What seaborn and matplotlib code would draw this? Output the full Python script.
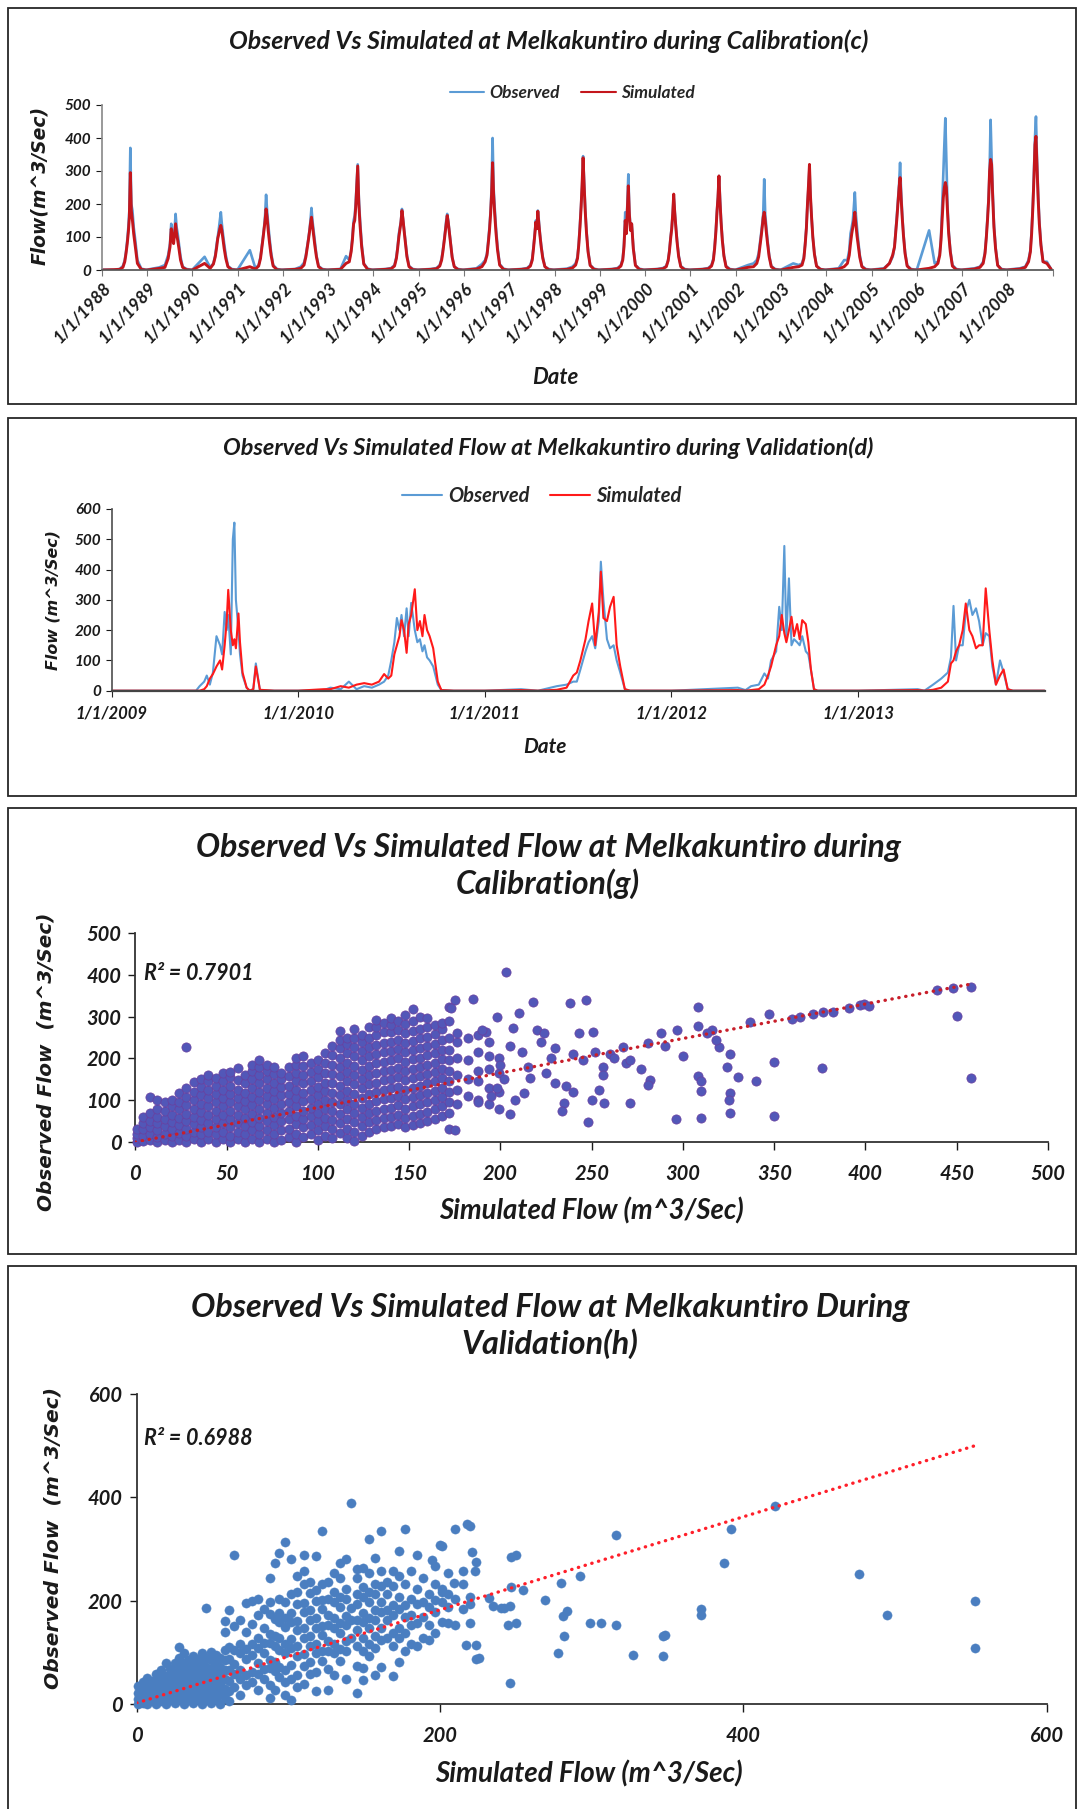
import numpy as np
import pandas as pd
import matplotlib
matplotlib.use("Agg")
import matplotlib.pyplot as plt
import seaborn as sns
from matplotlib.patches import Rectangle
from matplotlib.lines import Line2D
from matplotlib import font_manager as fm

# ---------------- DATA ----------------
# Panel (c): calibration hydrograph, values at these month-day anchors of each year
cal_years = list(range(1988, 2009))
cal_anchor_md = ["01-01", "04-10", "05-25", "06-20", "07-05", "07-15", "07-25", "08-03", "08-11",
                 "08-19", "08-27", "09-05", "09-15", "09-28", "10-15", "11-15", "12-20"]
cal_obs_rows = [
    [1, 1, 3, 12, 30, 55, 90, 130, 180, 370, 200, 180, 130, 90, 30, 4, 1],
    [1, 8, 15, 45, 80, 140, 100, 90, 120, 170, 130, 110, 80, 40, 10, 3, 1],
    [1, 40, 8, 20, 45, 75, 100, 125, 150, 175, 140, 110, 80, 45, 12, 3, 1],
    [1, 60, 5, 15, 40, 70, 100, 130, 165, 228, 180, 140, 100, 55, 15, 3, 1],
    [1, 3, 10, 22, 45, 70, 95, 120, 150, 188, 150, 120, 85, 45, 12, 3, 1],
    [1, 3, 42, 30, 60, 100, 150, 165, 205, 265, 320, 220, 150, 80, 20, 4, 1],
    [1, 3, 6, 15, 40, 70, 110, 130, 150, 185, 155, 125, 90, 45, 12, 3, 1],
    [1, 3, 6, 15, 35, 60, 90, 120, 150, 170, 150, 120, 85, 40, 10, 3, 1],
    [1, 5, 18, 30, 50, 90, 130, 180, 250, 400, 250, 190, 130, 70, 18, 4, 1],
    [1, 3, 6, 15, 35, 70, 110, 150, 130, 180, 150, 110, 75, 40, 10, 3, 1],
    [1, 4, 10, 20, 40, 80, 140, 200, 250, 345, 270, 190, 120, 60, 15, 4, 1],
    [1, 3, 6, 15, 35, 80, 175, 120, 200, 290, 180, 130, 140, 70, 15, 4, 1],
    [1, 3, 6, 12, 30, 60, 100, 130, 170, 225, 180, 135, 90, 45, 12, 3, 1],
    [1, 3, 6, 15, 35, 70, 120, 180, 220, 285, 220, 150, 95, 45, 12, 3, 1],
    [1, 15, 20, 30, 50, 80, 110, 140, 170, 275, 170, 130, 90, 45, 12, 3, 1],
    [1, 20, 15, 20, 40, 80, 130, 200, 250, 310, 220, 160, 100, 50, 12, 3, 1],
    [1, 5, 30, 30, 60, 110, 130, 150, 190, 235, 170, 130, 90, 45, 12, 3, 1],
    [1, 5, 20, 40, 70, 120, 170, 220, 260, 325, 240, 170, 110, 55, 14, 3, 1],
    [1, 120, 20, 25, 50, 100, 200, 300, 380, 460, 340, 200, 120, 60, 15, 3, 1],
    [1, 5, 10, 25, 55, 100, 160, 220, 300, 455, 340, 240, 140, 70, 15, 3, 1],
    [1, 5, 10, 30, 60, 120, 200, 300, 400, 465, 340, 240, 150, 80, 25, 25, 2],
]
cal_sim_rows = [
    [0, 1, 2, 8, 25, 50, 80, 115, 160, 295, 180, 150, 110, 70, 20, 2, 0],
    [0, 5, 8, 35, 70, 125, 95, 80, 110, 140, 110, 90, 65, 30, 8, 1, 0],
    [0, 20, 5, 18, 40, 65, 95, 110, 125, 135, 120, 95, 65, 35, 10, 1, 0],
    [0, 10, 3, 12, 35, 65, 95, 125, 150, 185, 160, 120, 85, 45, 12, 1, 0],
    [0, 2, 5, 15, 40, 65, 90, 115, 140, 160, 135, 105, 75, 40, 10, 1, 0],
    [0, 2, 20, 25, 55, 90, 140, 150, 190, 250, 315, 200, 135, 70, 18, 2, 0],
    [0, 2, 4, 12, 35, 65, 100, 125, 145, 180, 155, 120, 85, 40, 10, 1, 0],
    [0, 2, 4, 12, 30, 55, 85, 115, 140, 165, 145, 115, 80, 38, 10, 1, 0],
    [0, 3, 10, 25, 45, 80, 120, 170, 230, 325, 230, 170, 115, 60, 15, 2, 0],
    [0, 2, 4, 12, 30, 65, 105, 145, 125, 178, 140, 105, 70, 35, 10, 1, 0],
    [0, 2, 6, 15, 35, 75, 130, 190, 260, 340, 260, 180, 115, 55, 14, 2, 0],
    [0, 2, 4, 12, 30, 70, 150, 110, 180, 255, 170, 120, 140, 65, 14, 2, 0],
    [0, 2, 4, 10, 28, 55, 95, 125, 170, 230, 175, 130, 85, 40, 10, 1, 0],
    [0, 2, 4, 12, 30, 65, 115, 175, 220, 285, 210, 145, 90, 42, 10, 1, 0],
    [0, 8, 10, 20, 40, 70, 100, 130, 160, 175, 150, 115, 80, 40, 10, 1, 0],
    [0, 8, 10, 15, 35, 75, 125, 200, 255, 320, 225, 160, 100, 48, 12, 2, 0],
    [0, 3, 10, 20, 45, 80, 110, 130, 150, 175, 140, 105, 75, 38, 10, 1, 0],
    [0, 3, 20, 45, 70, 115, 160, 210, 250, 280, 220, 160, 105, 50, 12, 1, 0],
    [0, 5, 10, 20, 45, 90, 160, 220, 250, 265, 250, 180, 110, 55, 12, 1, 0],
    [0, 3, 8, 20, 50, 95, 150, 210, 300, 335, 320, 220, 130, 65, 14, 1, 0],
    [0, 3, 8, 25, 55, 110, 190, 280, 380, 405, 320, 220, 140, 75, 25, 20, 2],
]

# Panel (d): validation hydrograph
val_dates = [
    "2009-01-01", "2009-06-15", "2009-06-22", "2009-07-01", "2009-07-06", "2009-07-12", "2009-07-18", "2009-07-25",
    "2009-08-01", "2009-08-05", "2009-08-10", "2009-08-14", "2009-08-17", "2009-08-22", "2009-08-26", "2009-08-29",
    "2009-09-01", "2009-09-06", "2009-09-09", "2009-09-14", "2009-09-22", "2009-09-28", "2009-10-05", "2009-10-10",
    "2009-10-18", "2009-11-15",
    "2010-01-01", "2010-02-20", "2010-03-05", "2010-03-25", "2010-04-10", "2010-04-25", "2010-05-10", "2010-05-25",
    "2010-06-08", "2010-06-18", "2010-06-26", "2010-07-02", "2010-07-08", "2010-07-13", "2010-07-18", "2010-07-22",
    "2010-07-27", "2010-08-01", "2010-08-05", "2010-08-10", "2010-08-17", "2010-08-22", "2010-08-27", "2010-09-01",
    "2010-09-05", "2010-09-10", "2010-09-15", "2010-09-22", "2010-10-01", "2010-10-08", "2010-11-01",
    "2011-01-01", "2011-03-13", "2011-04-15", "2011-05-22", "2011-06-10", "2011-06-23", "2011-06-30", "2011-07-07",
    "2011-07-17", "2011-07-23", "2011-07-30", "2011-08-05", "2011-08-12", "2011-08-16", "2011-08-21", "2011-08-28",
    "2011-09-03", "2011-09-10", "2011-09-16", "2011-09-23", "2011-10-02", "2011-10-12",
    "2012-01-01", "2012-05-10", "2012-05-25", "2012-06-05", "2012-06-20", "2012-07-01", "2012-07-08", "2012-07-14",
    "2012-07-24", "2012-07-30", "2012-08-04", "2012-08-09", "2012-08-13", "2012-08-18", "2012-08-23", "2012-08-28",
    "2012-09-03", "2012-09-08", "2012-09-13", "2012-09-20", "2012-09-25", "2012-09-30", "2012-10-06", "2012-10-13",
    "2013-01-01", "2013-04-27", "2013-05-10", "2013-05-27", "2013-06-12", "2013-06-25", "2013-07-01", "2013-07-06",
    "2013-07-11", "2013-07-17", "2013-07-24", "2013-07-30", "2013-08-06", "2013-08-12", "2013-08-19", "2013-08-25",
    "2013-09-01", "2013-09-07", "2013-09-14", "2013-09-20", "2013-09-27", "2013-10-05", "2013-10-12", "2013-10-20",
    "2013-10-30", "2013-12-31",
]
val_obs = [
    0, 0, 15, 30, 50, 20, 60, 180, 150, 120, 260, 200, 250, 120, 500, 555, 300, 200, 120, 50, 10, 0, 5, 90, 2, 0,
    0, 2, 10, 5, 30, 5, 15, 10, 20, 30, 50, 100, 160, 240, 200, 250, 180, 272, 180, 290, 200, 160, 170, 130, 150,
    110, 100, 80, 20, 2, 0,
    0, 5, 0, 15, 20, 30, 30, 70, 130, 160, 180, 140, 230, 426, 300, 170, 140, 150, 100, 60, 5, 0,
    0, 10, 2, 15, 20, 57, 40, 100, 130, 277, 200, 478, 170, 371, 150, 170, 160, 150, 180, 130, 120, 70, 5, 0,
    0, 5, 0, 20, 40, 60, 110, 280, 100, 150, 150, 260, 300, 250, 272, 230, 150, 190, 180, 80, 20, 100, 60, 5, 0, 0,
]
val_sim = [
    0, 0, 0, 5, 15, 40, 55, 80, 100, 70, 150, 230, 333, 200, 150, 170, 140, 255, 160, 60, 10, 0, 5, 80, 3, 0,
    0, 5, 5, 15, 10, 20, 25, 20, 30, 55, 40, 50, 120, 150, 180, 233, 200, 125, 220, 250, 335, 200, 230, 180, 250,
    200, 180, 140, 30, 2, 0,
    0, 2, 0, 3, 10, 50, 60, 100, 170, 230, 288, 150, 260, 393, 240, 230, 277, 310, 150, 80, 5, 0,
    0, 2, 0, 2, 5, 20, 50, 80, 150, 180, 250, 190, 160, 200, 244, 180, 220, 170, 233, 220, 160, 70, 5, 0,
    0, 2, 0, 3, 10, 30, 90, 100, 130, 150, 200, 288, 200, 180, 140, 150, 150, 338, 200, 100, 20, 50, 70, 5, 0, 0,
]

# Panel (g): calibration scatter, observed values read per simulated-flow column
cal_sim_cols = [1, 4, 8, 12, 16, 20, 24, 28, 32, 36, 40, 44, 48, 52, 56, 60, 64, 68, 72, 76, 80, 84, 88, 92, 96,
                100, 104, 108, 112, 116, 120, 124, 128, 132, 136, 140, 144, 148, 152, 156, 160, 164, 168, 172,
                176, 182, 188, 194, 199]
cal_obs_cols = [
    [0, 10, 20, 30], [2, 15, 30, 45, 60], [5, 20, 35, 50, 70, 108], [0, 12, 28, 45, 60, 80, 100],
    [5, 20, 38, 55, 75, 95], [0, 15, 30, 48, 65, 85, 100], [5, 22, 40, 58, 78, 95, 118],
    [0, 15, 32, 50, 68, 88, 108, 128, 228], [8, 25, 42, 60, 80, 100, 120, 144],
    [0, 18, 35, 52, 72, 92, 112, 132, 150], [8, 25, 45, 65, 85, 105, 125, 145, 160],
    [0, 18, 36, 55, 75, 95, 115, 135, 152], [6, 25, 45, 65, 85, 105, 125, 145, 165],
    [0, 15, 35, 55, 75, 95, 115, 135, 155, 168], [8, 25, 45, 65, 85, 105, 125, 148, 176],
    [0, 18, 38, 58, 78, 98, 118, 140, 160], [6, 28, 48, 68, 88, 108, 128, 150, 170, 185],
    [0, 18, 38, 58, 80, 100, 120, 140, 160, 180, 195], [8, 28, 50, 70, 90, 110, 130, 150, 170, 185],
    [0, 20, 40, 60, 82, 102, 122, 142, 162, 180], [5, 28, 50, 70, 92, 112, 132, 150, 165],
    [12, 32, 55, 75, 95, 115, 135, 158, 180], [0, 20, 42, 62, 85, 105, 125, 145, 165, 185, 200],
    [12, 35, 55, 75, 98, 118, 140, 160, 182, 205], [18, 40, 62, 82, 102, 125, 145, 168, 190],
    [5, 28, 50, 70, 92, 112, 132, 155, 175, 195], [15, 38, 58, 80, 100, 122, 142, 165, 188, 212],
    [10, 30, 52, 75, 95, 118, 140, 162, 185, 208, 230],
    [22, 45, 68, 90, 112, 135, 158, 180, 202, 225, 245, 266],
    [10, 32, 55, 78, 100, 122, 145, 168, 190, 212, 235, 250],
    [2, 25, 48, 70, 92, 115, 138, 160, 182, 205, 228, 250, 270],
    [15, 38, 60, 82, 105, 128, 150, 172, 195, 218, 240, 255],
    [25, 48, 70, 92, 115, 138, 160, 182, 205, 228, 250, 275],
    [30, 52, 75, 98, 120, 142, 165, 188, 210, 232, 255, 275, 292],
    [35, 58, 80, 102, 125, 148, 170, 192, 215, 238, 262, 285],
    [38, 60, 82, 105, 128, 150, 172, 195, 218, 240, 262, 280, 296],
    [42, 65, 88, 110, 132, 155, 178, 200, 222, 245, 268, 290],
    [35, 58, 80, 102, 125, 148, 170, 192, 215, 238, 260, 282, 305],
    [40, 62, 85, 108, 130, 152, 175, 198, 220, 242, 265, 290, 318],
    [45, 68, 90, 112, 135, 158, 180, 202, 225, 248, 270, 300],
    [50, 72, 95, 118, 140, 162, 185, 208, 230, 252, 275, 296],
    [55, 78, 100, 122, 145, 168, 190, 212, 235, 258, 280],
    [62, 85, 108, 130, 152, 175, 198, 220, 245, 270, 285],
    [30, 70, 95, 120, 145, 170, 195, 220, 250, 290, 324],
    [90, 125, 160, 200, 240, 260], [110, 150, 195, 250], [100, 145, 170, 215, 255],
    [90, 130, 175, 205, 240], [80, 120, 165, 200],
]
cal_sparse_sim = [203, 185, 218, 238, 247, 308, 448, 458, 450, 458, 376, 350, 350, 326, 310, 310, 296, 248, 340,
                  330, 320, 326, 324, 326, 325, 308, 310, 300, 297, 288, 316, 271, 277, 282, 281, 269, 271, 256,
                  256, 257, 254, 235, 234, 236, 213, 216, 208, 205, 243, 251, 337, 347, 364, 382, 397, 399, 402,
                  439, 391, 377, 371, 360, 267, 281, 290, 308, 313, 318, 192, 190, 198, 210, 207, 220, 224, 175,
                  173, 175, 205, 212, 222, 230, 228, 240, 245, 252, 260, 262, 200, 215, 225, 202, 198, 195, 188,
                  230, 240, 250]
cal_sparse_obs = [406, 343, 336, 332, 340, 324, 369, 372, 302, 152, 176, 191, 62, 69, 57, 121, 54, 49, 145,
                  155, 228, 211, 180, 117, 100, 157, 147, 205, 268, 260, 268, 94, 174, 149, 137, 188, 196, 180,
                  160, 93, 125, 93, 75, 133, 117, 153, 101, 67, 260, 264, 286, 307, 299, 311, 327, 331, 326,
                  363, 321, 312, 306, 294, 228, 236, 230, 278, 260, 244, 263, 268, 300, 308, 272, 268, 260, 340,
                  320, 29, 230, 215, 240, 225, 200, 210, 195, 215, 210, 200, 185, 180, 165, 150, 130, 110, 95,
                  140, 120, 100]
cal_trend_x = [0, 458]
cal_trend_y = [0, 378]
cal_r2 = "R² = 0.7901"

# Panel (h): validation scatter
val_sim_cols = [1, 4, 7, 10, 13, 16, 19, 22, 25, 28, 31, 34, 37, 40, 43, 46, 49, 52, 55, 58, 61, 64, 68, 72, 76,
                80, 84, 88, 91, 94, 98, 102, 106, 110, 114, 118, 122, 126, 130, 134, 138, 141, 145, 149, 153,
                157, 161, 165, 169, 173, 177, 181, 185, 189, 193, 197, 201, 205, 210, 215, 220]
val_obs_cols = [
    [0, 10, 22, 35], [2, 15, 28, 42], [0, 12, 25, 38, 50], [5, 18, 30, 45], [0, 14, 28, 42, 58],
    [5, 20, 35, 50, 65], [0, 12, 26, 40, 55, 79], [8, 22, 36, 50, 68], [2, 15, 30, 45, 60, 80],
    [10, 25, 40, 55, 72, 90, 111], [0, 18, 32, 48, 62, 80, 98], [8, 22, 38, 52, 68, 85],
    [2, 15, 30, 45, 60, 75, 92], [10, 25, 40, 55, 70, 88], [0, 18, 33, 48, 65, 80, 98],
    [8, 25, 40, 58, 72, 90, 185], [2, 18, 35, 50, 68, 85, 100], [10, 28, 45, 60, 78, 95],
    [0, 20, 38, 55, 72, 90], [12, 30, 48, 65, 85, 105, 140, 160], [5, 25, 45, 65, 88, 110, 182],
    [32, 58, 77, 104, 151, 288], [18, 49, 66, 98, 117, 163], [37, 56, 88, 107, 139, 196],
    [43, 62, 94, 116, 154, 200], [27, 59, 79, 109, 127, 172, 203], [48, 67, 99, 118, 148, 183],
    [12, 37, 69, 86, 119, 136, 174, 197, 243], [28, 63, 81, 113, 132, 164, 272],
    [53, 71, 104, 127, 158, 176, 203, 292], [17, 43, 66, 98, 117, 149, 166, 198, 314],
    [8, 48, 76, 108, 126, 158, 177, 213, 281], [33, 57, 93, 112, 143, 161, 193, 217, 248],
    [38, 73, 96, 128, 147, 178, 196, 233, 257, 288], [58, 82, 113, 131, 163, 181, 214, 236],
    [26, 62, 98, 116, 148, 167, 199, 221, 286], [83, 102, 134, 151, 183, 201, 233, 335],
    [27, 67, 103, 121, 153, 172, 204, 237], [57, 98, 117, 148, 166, 198, 217, 253],
    [83, 106, 138, 157, 188, 207, 243, 272], [48, 103, 122, 153, 171, 203, 222, 281],
    [127, 163, 186, 390], [22, 73, 112, 143, 162, 193, 212, 243, 262],
    [46, 69, 103, 127, 158, 177, 208, 227, 263], [93, 117, 148, 167, 198, 216, 253, 320],
    [57, 108, 132, 163, 182, 213, 232, 283], [72, 123, 147, 178, 197, 228, 257, 335],
    [127, 163, 182, 213, 237], [54, 113, 137, 173, 192, 228, 257], [82, 128, 147, 183, 207, 248, 297],
    [103, 137, 168, 192, 233, 338], [117, 153, 172, 203, 257], [113, 157, 193, 222, 288],
    [127, 168, 197, 243], [123, 152, 188, 212], [137, 178, 202, 233, 268], [158, 197, 223, 305],
    [157, 188, 212, 253], [152, 203, 339], [183, 232, 258], [157, 193, 208, 345],
]
val_sparse_sim = [421, 392, 387, 316, 476, 495, 553, 553, 348, 347, 347, 327, 316, 299, 306, 372, 372, 282, 284,
                  281, 278, 292, 280, 269, 255, 246, 247, 250, 245, 247, 250, 246, 242, 224, 224, 226, 217, 224,
                  221, 218, 223, 209, 201, 200, 195, 235, 240, 232]
val_sparse_obs = [383, 338, 273, 327, 252, 173, 200, 108, 134, 131, 92, 95, 153, 157, 157, 183, 173, 132, 180,
                  170, 98, 247, 234, 202, 220, 41, 227, 156, 153, 285, 288, 190, 186, 115, 88, 89, 115, 275,
                  295, 349, 258, 234, 217, 308, 278, 190, 185, 205]
val_trend_x = [0, 555]
val_trend_y = [2, 502]
val_r2 = "R² = 0.6988"

# ---------------- STYLE ----------------
sns.set_theme(style="white")
avail = {f.name for f in fm.fontManager.ttflist}
HFAM = next((f for f in ["Lato", "Open Sans", "Roboto", "DejaVu Sans"] if f in avail), "DejaVu Sans")
VFAM = ["DejaVu Sans"]
plt.rcParams["font.family"] = [HFAM, "DejaVu Sans"]
plt.rcParams["font.weight"] = "bold"
plt.rcParams["font.style"] = "italic"
plt.rcParams["axes.unicode_minus"] = False

W, H = 1078, 1809
fig = plt.figure(figsize=(W / 100, H / 100), dpi=100)
fig.patch.set_facecolor("white")


def fx(px):
    return px / W


def fy(py):
    return 1 - py / H


def axes_px(left, top, right, bottom):
    return fig.add_axes([left / W, 1 - bottom / H, (right - left) / W, (bottom - top) / H])


def frame(top, bottom):
    fig.add_artist(Rectangle((fx(8), fy(bottom)), (1076 - 8) / W, (bottom - top) / H,
                             transform=fig.transFigure, fill=False, ec="#262626", lw=1.3))


TXT = "#1a1a1a"
OBS_C = "#5b9bd5"

# ---------------- PANEL (c) ----------------
frame(8, 404)
dates_c, obs_c, sim_c = [], [], []
for yr, orow, srow in zip(cal_years, cal_obs_rows, cal_sim_rows):
    for md, o, s in zip(cal_anchor_md, orow, srow):
        dates_c.append(pd.Timestamp(f"{yr}-{md}"))
        obs_c.append(o)
        sim_c.append(s)
df_c = pd.DataFrame({"date": dates_c, "Observed": obs_c, "Simulated": sim_c})

ax1 = axes_px(101.7, 105, 1052.7, 270)
sns.lineplot(data=df_c, x="date", y="Observed", color=OBS_C, lw=1.9, ax=ax1, estimator=None)
sns.lineplot(data=df_c, x="date", y="Simulated", color="#c4161c", lw=2.1, ax=ax1, estimator=None)
ax1.set_xlim(pd.Timestamp("1988-01-01"), pd.Timestamp("2009-01-01"))
ax1.set_ylim(0, 500)
ax1.set_yticks(range(0, 501, 100))
xt = [pd.Timestamp(f"{y}-01-01") for y in range(1988, 2010)]
ax1.set_xticks(xt)
ax1.set_xticklabels([f"1/1/{y}" for y in range(1988, 2009)] + [""], rotation=47, ha="right",
                    rotation_mode="anchor", fontsize=12.5, color=TXT)
ax1.tick_params(axis="y", labelsize=11, colors=TXT, length=4, direction="out", left=True, width=0.8)
ax1.tick_params(axis="x", length=4, direction="out", bottom=True, width=0.8, pad=3, color="#777777")
ax1.set_xlabel("")
ax1.set_ylabel("")
for sp in ["top", "right"]:
    ax1.spines[sp].set_visible(False)
ax1.spines["left"].set_color("#8c8c8c")
ax1.spines["bottom"].set_color("#555555")
fig.text(fx(549), fy(41.5), "Observed Vs Simulated at Melkakuntiro during Calibration(c)",
         ha="center", va="center", fontsize=17.9, color=TXT)
fig.legend([Line2D([0], [0], color=OBS_C, lw=1.5), Line2D([0], [0], color="#c4161c", lw=1.5)],
           ["Observed", "Simulated"], loc="center", bbox_to_anchor=(fx(572), fy(93.5)), ncol=2,
           frameon=False, fontsize=12.5, handlelength=2.0, columnspacing=1.2, handletextpad=0.3)
fig.text(fx(40), fy(185), "Flow(m^3/Sec)", rotation=90, ha="center", va="center", fontsize=13.5,
         color=TXT, family=VFAM)
fig.text(fx(555), fy(378), "Date", ha="center", va="center", fontsize=16, color=TXT)

# ---------------- PANEL (d) ----------------
frame(418, 796)
df_d = pd.DataFrame({"date": pd.to_datetime(val_dates), "Observed": val_obs, "Simulated": val_sim})
ax2 = axes_px(111.7, 509, 1045, 690.7)
sns.lineplot(data=df_d, x="date", y="Observed", color=OBS_C, lw=1.5, ax=ax2, estimator=None)
sns.lineplot(data=df_d, x="date", y="Simulated", color="#ff1a1a", lw=1.5, ax=ax2, estimator=None)
ax2.set_xlim(pd.Timestamp("2009-01-01"), pd.Timestamp("2014-01-01"))
ax2.set_ylim(0, 600)
ax2.set_yticks(range(0, 601, 100))
ax2.set_xticks([pd.Timestamp(f"{y}-01-01") for y in range(2009, 2014)])
ax2.set_xticklabels([f"1/1/{y}" for y in range(2009, 2014)], fontsize=12, color=TXT)
ax2.tick_params(axis="y", labelsize=11, colors=TXT, length=4, direction="out", left=True, width=0.8)
ax2.tick_params(axis="x", length=4, direction="out", bottom=True, width=0.8, pad=7)
ax2.set_xlabel("")
ax2.set_ylabel("")
for sp in ["top", "right"]:
    ax2.spines[sp].set_visible(False)
ax2.spines["left"].set_color("#555555")
ax2.spines["bottom"].set_color("#444444")
ax2.spines["bottom"].set_linewidth(1.6)
fig.text(fx(548), fy(448), "Observed Vs Simulated Flow at Melkakuntiro during Validation(d)",
         ha="center", va="center", fontsize=16.9, color=TXT)
fig.legend([Line2D([0], [0], color=OBS_C, lw=1.5), Line2D([0], [0], color="#ff1a1a", lw=1.5)],
           ["Observed", "Simulated"], loc="center", bbox_to_anchor=(fx(542), fy(496)), ncol=2,
           frameon=False, fontsize=14.5, handlelength=2.0, columnspacing=1.0, handletextpad=0.3)
fig.text(fx(53), fy(600), "Flow (m^3/Sec)", rotation=90, ha="center", va="center", fontsize=11.4,
         color=TXT, family=VFAM)
fig.text(fx(545), fy(747), "Date", ha="center", va="center", fontsize=15, color=TXT)


# ---------------- SCATTER PANELS ----------------
def flatten(cols_x, cols_y, sx, sy):
    xs = [x for x, col in zip(cols_x, cols_y) for _ in col] + list(sx)
    ys = [v for col in cols_y for v in col] + list(sy)
    return xs, ys


def style_scatter_axes(ax, lim, step):
    ax.set_xlim(0, lim)
    ax.set_ylim(0, lim)
    ax.set_xticks(range(0, lim + 1, step))
    ax.tick_params(axis="x", labelsize=14.5, colors=TXT, length=6, direction="out", bottom=True,
                   width=1.0, pad=10)
    ax.tick_params(axis="y", labelsize=14.5, colors=TXT, length=5, direction="out", left=True,
                   width=1.0, pad=5)
    ax.set_xlabel("")
    ax.set_ylabel("")
    for sp in ["top", "right"]:
        ax.spines[sp].set_visible(False)
    for sp in ["left", "bottom"]:
        ax.spines[sp].set_color("#333333")
        ax.spines[sp].set_linewidth(1.3)


# Panel (g)
frame(808, 1254)
gx, gy = flatten(cal_sim_cols, cal_obs_cols, cal_sparse_sim, cal_sparse_obs)
ax3 = axes_px(135.3, 933, 1048, 1142)
sns.scatterplot(x=gx, y=gy, s=44, color="#5257b8", edgecolor="#6a3f9e", linewidth=0.5, ax=ax3,
                clip_on=False, zorder=3)
ax3.plot(cal_trend_x, cal_trend_y, color="#c81e2a", lw=2.4, linestyle=(0, (0.1, 2.0)),
         dash_capstyle="round", zorder=4)
ax3.set_yticks(range(0, 501, 100))
style_scatter_axes(ax3, 500, 50)
ax3.text(5, 404, cal_r2, ha="left", va="center", fontsize=15.5, color=TXT)
fig.text(fx(548), fy(866), "Observed Vs Simulated Flow at Melkakuntiro during\nCalibration(g)",
         ha="center", va="center", fontsize=23, color=TXT, linespacing=1.25)
fig.text(fx(46), fy(1062), "Observed Flow  (m^3/Sec)", rotation=90, ha="center", va="center",
         fontsize=14.4, color=TXT, family=VFAM)
fig.text(fx(591), fy(1211), "Simulated Flow (m^3/Sec)", ha="center", va="center", fontsize=19.8, color=TXT)

# Panel (h)
frame(1266, 1830)
hx, hy = flatten(val_sim_cols, val_obs_cols, val_sparse_sim, val_sparse_obs)
ax4 = axes_px(136.7, 1394, 1046.7, 1704)
sns.scatterplot(x=hx, y=hy, s=44, color="#4a7ec0", edgecolor="#4a7ec0", linewidth=0.3, ax=ax4,
                clip_on=False, zorder=3)
ax4.plot(val_trend_x, val_trend_y, color="#ff1f2a", lw=2.4, linestyle=(0, (0.1, 2.0)),
         dash_capstyle="round", zorder=4)
ax4.set_yticks(range(0, 601, 200))
style_scatter_axes(ax4, 600, 200)
ax4.text(5, 513, val_r2, ha="left", va="center", fontsize=15.5, color=TXT)
fig.text(fx(550), fy(1326), "Observed Vs Simulated Flow at Melkakuntiro During\nValidation(h)",
         ha="center", va="center", fontsize=23.3, color=TXT, linespacing=1.25)
fig.text(fx(53), fy(1538), "Observed Flow  (m^3/Sec)", rotation=90, ha="center", va="center",
         fontsize=14.6, color=TXT, family=VFAM)
fig.text(fx(589), fy(1774), "Simulated Flow (m^3/Sec)", ha="center", va="center", fontsize=20, color=TXT)

fig.savefig("out.png", dpi=100, facecolor="white")
